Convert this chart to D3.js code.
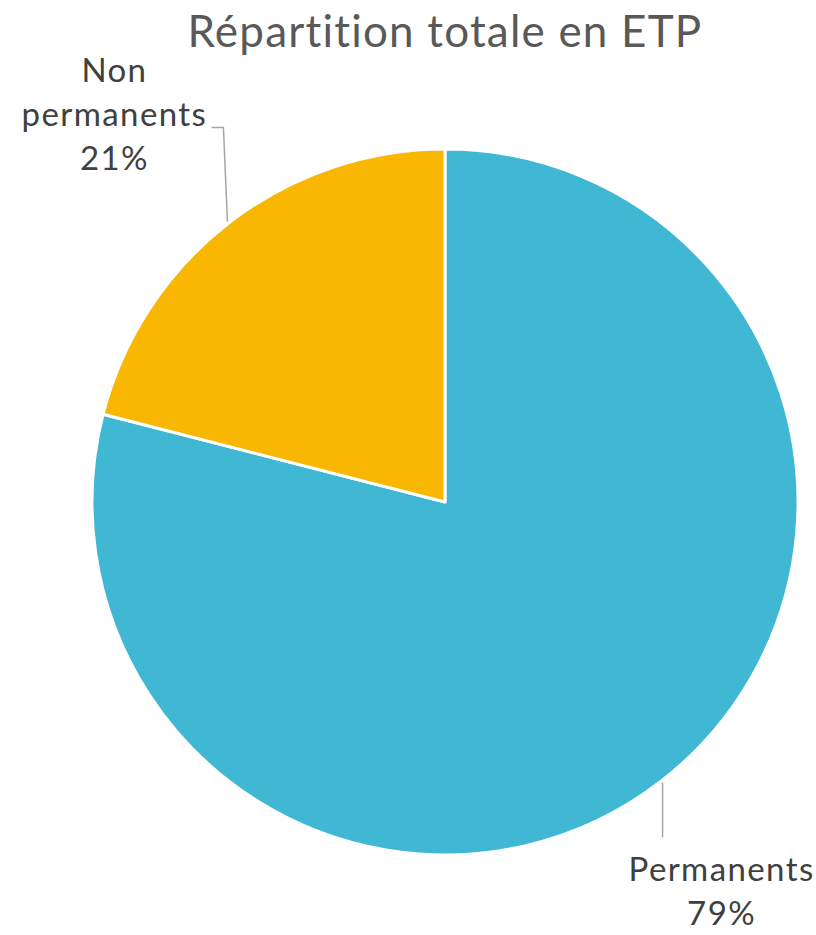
<!DOCTYPE html>
<html>
<head>
<meta charset="utf-8">
<script src="https://cdn.jsdelivr.net/npm/d3@7"></script>
<style>
  body { margin: 0; background: #fff; }
  text { font-family: Lato, "Open Sans", sans-serif; }
</style>
</head>
<body>
<div id="chart"></div>
<script>
const categories = ['Permanents', 'Non permanents']
const shares = [79, 21]
const colors = ['#40B8D3', '#F9B701']
const labelLines = [['Permanents', '79%'], ['Non', 'permanents', '21%']]

const w = 816, h = 935
const cx = 445, cy = 502, r = 353

const svg = d3.select('#chart')
  .append('svg')
  .attr('width', w)
  .attr('height', h)

svg.append('text')
  .attr('x', 445)
  .attr('y', 47)
  .attr('text-anchor', 'middle')
  .attr('font-size', 44)
  .attr('letter-spacing', 1.2)
  .attr('fill', '#595959')
  .text('Répartition totale en ETP')

const pie = d3.pie().sort(null).value(d => d)
const arcs = pie(shares)

const arc = d3.arc().innerRadius(0).outerRadius(r)
const rim = d3.arc().innerRadius(r + 2).outerRadius(r + 2)

const g = svg.append('g').attr('transform', `translate(${cx},${cy})`)

g.selectAll('path')
  .data(arcs)
  .enter()
  .append('path')
  .attr('d', arc)
  .attr('fill', (d, i) => colors[i])
  .attr('stroke', '#fff')
  .attr('stroke-width', 3)
  .attr('stroke-linejoin', 'round')

// label block placement, relative to the rim point of each slice
const labelOffsets = [
  { dx: 59, dy: 98, line: p => [[p[0], p[1]], [p[0], p[1] + 55]] },
  { dx: -113, dy: -140, line: p => [[p[0], p[1]], [p[0] - 4, p[1] - 94], [p[0] - 16, p[1] - 94]] }
]

arcs.forEach((d, i) => {
  const p = rim.centroid(d)
  const off = labelOffsets[i]
  g.append('path')
    .attr('d', d3.line()(off.line(p)))
    .attr('fill', 'none')
    .attr('stroke', '#A6A6A6')
    .attr('stroke-width', 1.5)

  const t = g.append('text')
    .attr('text-anchor', 'middle')
    .attr('font-size', 33)
    .attr('letter-spacing', 1.4)
    .attr('fill', '#404040')
  labelLines[i].forEach((s, k) => {
    t.append('tspan')
      .attr('x', p[0] + off.dx)
      .attr('y', p[1] + off.dy + k * 44)
      .text(s)
  })
})
</script>
</body>
</html>
